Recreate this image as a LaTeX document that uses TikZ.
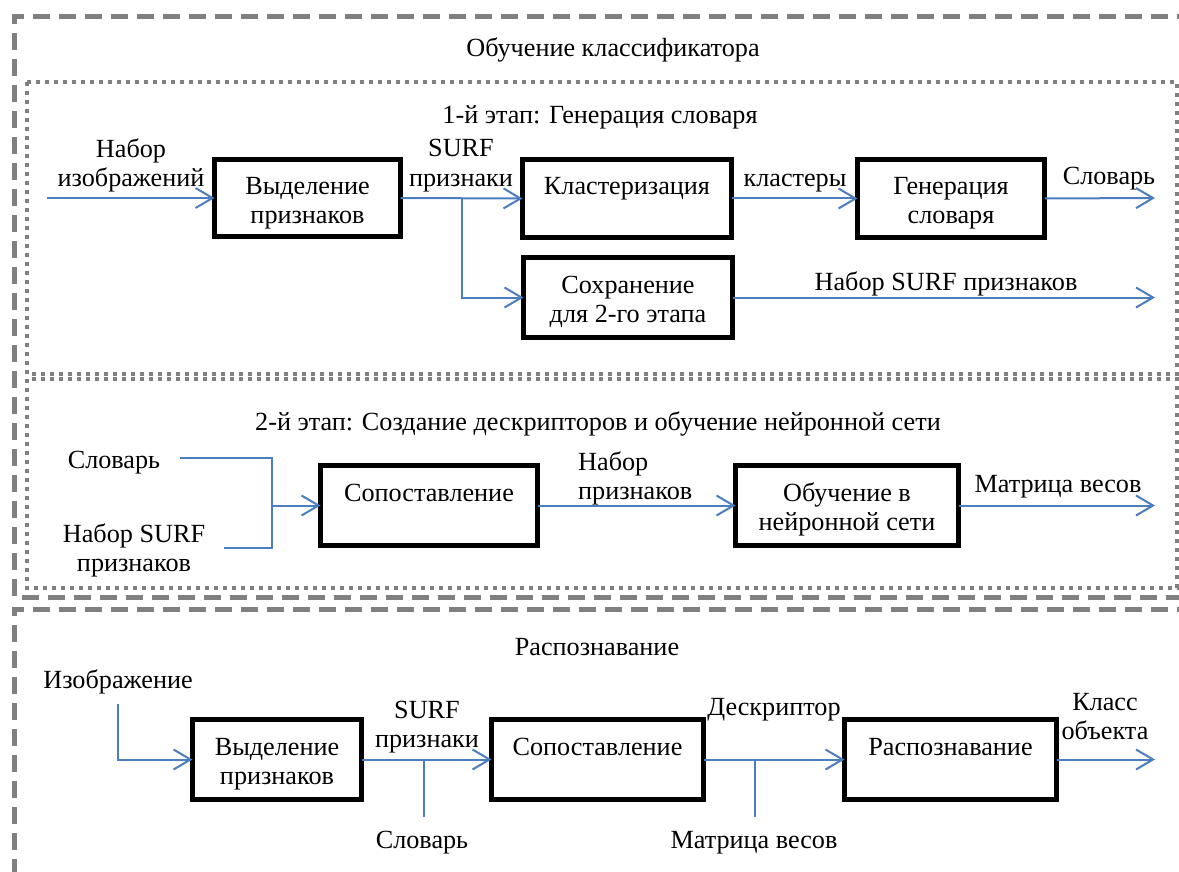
\documentclass[tikz,border=0pt]{standalone}
\usepackage{fontspec}
\setmainfont{Liberation Serif}
\usetikzlibrary{arrows.meta}
\definecolor{flow}{RGB}{74,126,190}
\definecolor{framegray}{RGB}{128,128,128}

\begin{document}
\begin{tikzpicture}[x=1pt,y=-1pt,
  font=\fontsize{26.2}{29}\selectfont,
  block/.style={draw=black, line width=5pt, inner sep=0pt, outer sep=0pt},
  btext/.style={anchor=base, align=center, inner sep=0pt},
  lbl/.style={anchor=base, align=center, inner sep=0pt},
  flowline/.style={draw=flow, line width=2pt},
  flowarrow/.style={flowline, -{Straight Barb[length=17pt,width=20pt,line width=2pt]}},
  section/.style={draw=framegray, line width=5pt, dash pattern=on 17pt off 9pt},
  phase/.style={draw=framegray, line width=4pt, dash pattern=on 4pt off 5pt},
]
\clip (0,0) rectangle (1179,872);

% outer frames: training and recognition
\draw[section] (1220,17) -- (14,17) -- (14,597) -- (1220,597);
\draw[section] (1220,609) -- (14,609) -- (14,900);
% inner frames: stage 1 and stage 2
\draw[phase] (27,82) rectangle (1177,374);
\draw[phase] (27,379) rectangle (1177,588);

% titles
\node[lbl] (t0) at (613,57) {Обучение классификатора};
\node[lbl] (t1) at (600,124) {1-й этап: Генерация словаря};
\node[lbl] (t2) at (598,430) {2-й этап: Создание дескрипторов и обучение нейронной сети};
\node[lbl] (t3) at (597,655) {Распознавание};

% stage 1 blocks (text baseline of a multi-line node is its last line)
\node[block, minimum width=186pt, minimum height=77pt] (A1) at (307.5,198) {};
\node[block, minimum width=209pt, minimum height=78pt] (A2) at (627,198.5) {};
\node[block, minimum width=187pt, minimum height=78pt] (A3) at (951,198.5) {};
\node[block, minimum width=209pt, minimum height=80pt] (A4) at (628,297.5) {};
\node[btext] (A1t) at ([yshift=-64.5pt]A1.north) {Выделение\\признаков};
\node[btext] (A2t) at ([yshift=-35.5pt]A2.north) {Кластеризация};
\node[btext] (A3t) at ([yshift=-64.5pt]A3.north) {Генерация\\словаря};
\node[btext] (A4t) at ([yshift=-64.5pt]A4.north) {Сохранение\\для 2-го этапа};

% stage 2 blocks
\node[block, minimum width=217pt, minimum height=80pt] (B1) at (429,505.5) {};
\node[block, minimum width=223pt, minimum height=80pt] (B2) at (847,505.5) {};
\node[btext] (B1t) at ([yshift=-35.5pt]B1.north) {Сопоставление};
\node[btext] (B2t) at ([yshift=-64.5pt]B2.north) {Обучение в\\нейронной сети};

% recognition blocks
\node[block, minimum width=169pt, minimum height=80pt] (C1) at (277,759.5) {};
\node[block, minimum width=212pt, minimum height=80pt] (C2) at (597.5,759.5) {};
\node[block, minimum width=212pt, minimum height=80pt] (C3) at (950.5,759.5) {};
\node[btext] (C1t) at ([yshift=-64.5pt]C1.north) {Выделение\\признаков};
\node[btext] (C2t) at ([yshift=-35.5pt]C2.north) {Сопоставление};
\node[btext] (C3t) at ([yshift=-35.5pt]C3.north) {Распознавание};

% free ends and junctions
\coordinate (in1) at (47,198);
\coordinate (br1) at (462,198);
\coordinate (out1) at (1155,198);
\coordinate (out2) at (1155,297.5);
\coordinate (d1) at (180,458);
\coordinate (d2) at (224,548);
\coordinate (j2) at (272,505.5);
\coordinate (out3) at (1155,505.5);
\coordinate (in3) at (118,704);
\coordinate (br3) at (424,759.5);
\coordinate (e3) at (424,817);
\coordinate (br4) at (755,759.5);
\coordinate (e4) at (755,817);
\coordinate (out4) at (1155,759.5);

% stage 1 connectors
\draw[flowarrow] (in1) -- (A1.west);
\draw[flowarrow] (A1.east) -- (A2.west);
\draw[flowarrow] (br1) |- (A4.west);
\draw[flowarrow] (A2.east) -- (A3.west);
\draw[flowarrow] (A3.east) -- (out1);
\draw[flowarrow] (A4.east) -- (out2);

% stage 2 connectors
\draw[flowline] (d1) -| (j2) |- (d2);
\draw[flowarrow] (j2) -- (B1.west);
\draw[flowarrow] (B1.east) -- (B2.west);
\draw[flowarrow] (B2.east) -- (out3);

% recognition connectors
\draw[flowarrow] (in3) |- (C1.west);
\draw[flowarrow] (C1.east) -- (C2.west);
\draw[flowline] (br3) -- (e3);
\draw[flowarrow] (C2.east) -- (C3.west);
\draw[flowline] (br4) -- (e4);
\draw[flowarrow] (C3.east) -- (out4);

% connector labels
\node[lbl] (l1) at (131,187) {Набор\\изображений};
\node[lbl] (l2) at (461,186) {SURF\\признаки};
\node[lbl] (l3) at (795,186) {кластеры};
\node[lbl] (l4) at (1109,185) {Словарь};
\node[lbl] (l5) at (946,290) {Набор SURF признаков};
\node[lbl] (l6) at (114,468) {Словарь};
\node[lbl] (l7) at (134,571) {Набор SURF\\признаков};
\node[lbl, anchor=base west, align=left] (l8) at (578,499) {Набор\\признаков};
\node[lbl] (l9) at (1058,492) {Матрица весов};
\node[lbl] (l10) at (118,688) {Изображение};
\node[lbl] (l11) at (427,747) {SURF\\признаки};
\node[lbl] (l12) at (422,848) {Словарь};
\node[lbl] (l13) at (774,715) {Дескриптор};
\node[lbl] (l14) at (754,848) {Матрица весов};
\node[lbl] (l15) at (1105,739) {Класс\\объекта};
\end{tikzpicture}
\end{document}
